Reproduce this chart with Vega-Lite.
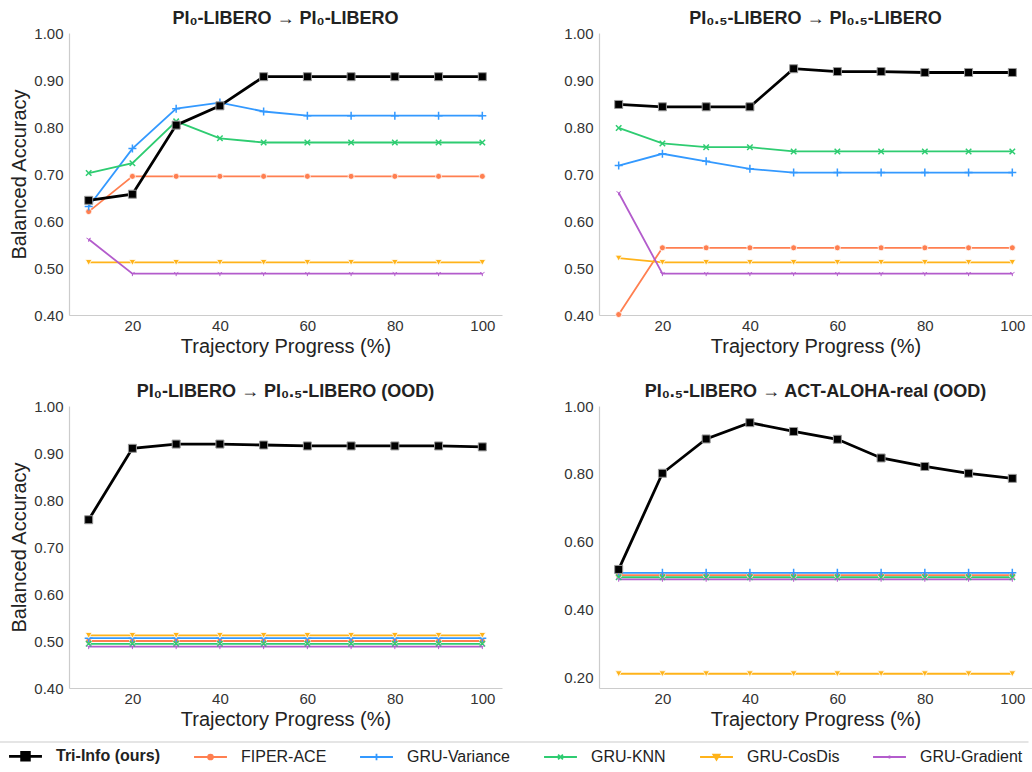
{
  "$schema": "https://vega.github.io/schema/vega-lite/v6.json",
  "padding": {"left": -3, "top": 9, "right": 0, "bottom": 0},
  "background": "white",
  "config": {
    "font": "Liberation Sans",
    "view": {"stroke": null},
    "axis": {"domainColor": "#cccccc", "domainWidth": 1.2, "ticks": false, "grid": false, "labelFontSize": 15, "labelColor": "#333333", "titleFontSize": 20, "titleFontWeight": "normal", "titleColor": "#222222"},
    "axisX": {"labelPadding": 3, "titlePadding": 3},
    "axisY": {"labelPadding": 6, "titlePadding": 4},
    "title": {"fontSize": 18, "fontWeight": "bold", "color": "#222222", "offset": -1.5}
  },
  "datasets": {
    "acc": [
      {"panel": "A", "x": 10, "tri": 0.644, "fiper": 0.620, "var": 0.631, "knn": 0.702, "cos": 0.512, "grad": 0.561},
      {"panel": "A", "x": 20, "tri": 0.657, "fiper": 0.695, "var": 0.754, "knn": 0.723, "cos": 0.512, "grad": 0.488},
      {"panel": "A", "x": 30, "tri": 0.804, "fiper": 0.695, "var": 0.839, "knn": 0.812, "cos": 0.512, "grad": 0.488},
      {"panel": "A", "x": 40, "tri": 0.845, "fiper": 0.695, "var": 0.852, "knn": 0.776, "cos": 0.512, "grad": 0.488},
      {"panel": "A", "x": 50, "tri": 0.907, "fiper": 0.695, "var": 0.833, "knn": 0.767, "cos": 0.512, "grad": 0.488},
      {"panel": "A", "x": 60, "tri": 0.907, "fiper": 0.695, "var": 0.824, "knn": 0.767, "cos": 0.512, "grad": 0.488},
      {"panel": "A", "x": 70, "tri": 0.907, "fiper": 0.695, "var": 0.824, "knn": 0.767, "cos": 0.512, "grad": 0.488},
      {"panel": "A", "x": 80, "tri": 0.907, "fiper": 0.695, "var": 0.824, "knn": 0.767, "cos": 0.512, "grad": 0.488},
      {"panel": "A", "x": 90, "tri": 0.907, "fiper": 0.695, "var": 0.824, "knn": 0.767, "cos": 0.512, "grad": 0.488},
      {"panel": "A", "x": 100, "tri": 0.907, "fiper": 0.695, "var": 0.824, "knn": 0.767, "cos": 0.512, "grad": 0.488},
      {"panel": "B", "x": 10, "tri": 0.848, "fiper": 0.401, "var": 0.718, "knn": 0.798, "cos": 0.521, "grad": 0.660},
      {"panel": "B", "x": 20, "tri": 0.843, "fiper": 0.543, "var": 0.743, "knn": 0.765, "cos": 0.512, "grad": 0.488},
      {"panel": "B", "x": 30, "tri": 0.843, "fiper": 0.543, "var": 0.727, "knn": 0.757, "cos": 0.512, "grad": 0.488},
      {"panel": "B", "x": 40, "tri": 0.843, "fiper": 0.543, "var": 0.711, "knn": 0.757, "cos": 0.512, "grad": 0.488},
      {"panel": "B", "x": 50, "tri": 0.924, "fiper": 0.543, "var": 0.703, "knn": 0.748, "cos": 0.512, "grad": 0.488},
      {"panel": "B", "x": 60, "tri": 0.918, "fiper": 0.543, "var": 0.703, "knn": 0.748, "cos": 0.512, "grad": 0.488},
      {"panel": "B", "x": 70, "tri": 0.918, "fiper": 0.543, "var": 0.703, "knn": 0.748, "cos": 0.512, "grad": 0.488},
      {"panel": "B", "x": 80, "tri": 0.916, "fiper": 0.543, "var": 0.703, "knn": 0.748, "cos": 0.512, "grad": 0.488},
      {"panel": "B", "x": 90, "tri": 0.916, "fiper": 0.543, "var": 0.703, "knn": 0.748, "cos": 0.512, "grad": 0.488},
      {"panel": "B", "x": 100, "tri": 0.916, "fiper": 0.543, "var": 0.703, "knn": 0.748, "cos": 0.512, "grad": 0.488},
      {"panel": "C", "x": 10, "tri": 0.758, "fiper": 0.500, "var": 0.506, "knn": 0.494, "cos": 0.512, "grad": 0.488},
      {"panel": "C", "x": 20, "tri": 0.910, "fiper": 0.500, "var": 0.506, "knn": 0.494, "cos": 0.512, "grad": 0.488},
      {"panel": "C", "x": 30, "tri": 0.919, "fiper": 0.500, "var": 0.506, "knn": 0.494, "cos": 0.512, "grad": 0.488},
      {"panel": "C", "x": 40, "tri": 0.919, "fiper": 0.500, "var": 0.506, "knn": 0.494, "cos": 0.512, "grad": 0.488},
      {"panel": "C", "x": 50, "tri": 0.917, "fiper": 0.500, "var": 0.506, "knn": 0.494, "cos": 0.512, "grad": 0.488},
      {"panel": "C", "x": 60, "tri": 0.915, "fiper": 0.500, "var": 0.506, "knn": 0.494, "cos": 0.512, "grad": 0.488},
      {"panel": "C", "x": 70, "tri": 0.915, "fiper": 0.500, "var": 0.506, "knn": 0.494, "cos": 0.512, "grad": 0.488},
      {"panel": "C", "x": 80, "tri": 0.915, "fiper": 0.500, "var": 0.506, "knn": 0.494, "cos": 0.512, "grad": 0.488},
      {"panel": "C", "x": 90, "tri": 0.915, "fiper": 0.500, "var": 0.506, "knn": 0.494, "cos": 0.512, "grad": 0.488},
      {"panel": "C", "x": 100, "tri": 0.913, "fiper": 0.500, "var": 0.506, "knn": 0.494, "cos": 0.512, "grad": 0.488},
      {"panel": "D", "x": 10, "tri": 0.519, "fiper": 0.502, "var": 0.509, "knn": 0.496, "cos": 0.212, "grad": 0.490},
      {"panel": "D", "x": 20, "tri": 0.802, "fiper": 0.502, "var": 0.509, "knn": 0.496, "cos": 0.212, "grad": 0.490},
      {"panel": "D", "x": 30, "tri": 0.903, "fiper": 0.502, "var": 0.509, "knn": 0.496, "cos": 0.212, "grad": 0.490},
      {"panel": "D", "x": 40, "tri": 0.951, "fiper": 0.502, "var": 0.509, "knn": 0.496, "cos": 0.212, "grad": 0.490},
      {"panel": "D", "x": 50, "tri": 0.925, "fiper": 0.502, "var": 0.509, "knn": 0.496, "cos": 0.212, "grad": 0.490},
      {"panel": "D", "x": 60, "tri": 0.902, "fiper": 0.502, "var": 0.509, "knn": 0.496, "cos": 0.212, "grad": 0.490},
      {"panel": "D", "x": 70, "tri": 0.847, "fiper": 0.502, "var": 0.509, "knn": 0.496, "cos": 0.212, "grad": 0.490},
      {"panel": "D", "x": 80, "tri": 0.822, "fiper": 0.502, "var": 0.509, "knn": 0.496, "cos": 0.212, "grad": 0.490},
      {"panel": "D", "x": 90, "tri": 0.802, "fiper": 0.502, "var": 0.509, "knn": 0.496, "cos": 0.212, "grad": 0.490},
      {"panel": "D", "x": 100, "tri": 0.787, "fiper": 0.502, "var": 0.509, "knn": 0.496, "cos": 0.212, "grad": 0.490}
    ]
  },
  "data": {"name": "acc"},
  "transform": [{"fold": ["fiper", "var", "knn", "cos", "grad", "tri"], "as": ["method", "acc"]}],
  "bounds": "flush",
  "columns": 2,
  "spacing": {"row": 91, "column": 97},
  "concat": [
    {
      "title": "PI₀-LIBERO  →  PI₀-LIBERO",
      "width": 433, "height": 282,
      "transform": [{"filter": "datum.panel === 'A'"}],
      "encoding": {
        "x": {"field": "x", "type": "quantitative", "scale": {"domain": [5.5, 104.5], "nice": false}, "axis": {"values": [20, 40, 60, 80, 100], "title": "Trajectory Progress (%)"}},
        "y": {"field": "acc", "type": "quantitative", "scale": {"domain": [0.4, 1.0], "nice": false, "zero": false}, "axis": {"values": [0.4, 0.5, 0.6, 0.7, 0.8, 0.9, 1.0], "format": ".2f", "title": "Balanced Accuracy"}},
        "color": {"field": "method", "type": "nominal",
          "scale": {"domain": ["tri", "fiper", "var", "knn", "cos", "grad"], "range": ["#000000", "#FF7F50", "#3399FF", "#2ECC71", "#FFB31A", "#B35CCC"]},
          "legend": {
            "title": null, "orient": "none", "direction": "horizontal", "columns": 6,
            "legendX": -70.5, "legendY": 709, "padding": 6,
            "strokeColor": "#dddddd",
            "symbolSize": 49, "symbolOffset": 13, "labelOffset": 22.5, "columnPadding": 29, "symbolOpacity": 1,
            "labelFontSize": 16, "labelColor": "#222222",
            "labelExpr": "{'tri': 'Tri-Info (ours)', 'fiper': 'FIPER-ACE', 'var': 'GRU-Variance', 'knn': 'GRU-KNN', 'cos': 'GRU-CosDis', 'grad': 'GRU-Gradient'}[datum.value]",
            "encode": {
              "legend": {"update": {"strokeDash": {"value": [1030, 4000]}, "strokeWidth": {"value": 1.5}}},
              "symbols": {"update": {
                "fill": {"scale": "color", "field": "value"},
                "stroke": {"scale": "color", "field": "value"},
                "strokeWidth": {"signal": "datum.value === 'tri' ? 2.8 : 1.8"},
                "opacity": {"value": 1}
              }},
              "labels": {"update": {"fontWeight": {"signal": "datum.value === 'tri' ? 'bold' : 'normal'"}}}
            }
          }
        }
      },
      "layer": [
        {"transform": [{"filter": "datum.method !== 'tri'"}], "mark": {"type": "line", "strokeWidth": 1.8}},
        {"transform": [{"filter": "datum.method === 'fiper'"}], "mark": {"type": "point", "shape": "circle", "filled": true, "size": 36, "stroke": "#ffffff", "strokeWidth": 0.8, "opacity": 1}},
        {"transform": [{"filter": "datum.method === 'var'"}], "mark": {"type": "point", "shape": "M-1,0L1,0M0,-1L0,1", "filled": false, "size": 64, "strokeWidth": 1.5, "opacity": 1}},
        {"transform": [{"filter": "datum.method === 'knn'"}], "mark": {"type": "point", "shape": "M-1,-1L1,1M-1,1L1,-1", "filled": false, "size": 30, "strokeWidth": 1.5, "opacity": 1}},
        {"transform": [{"filter": "datum.method === 'cos'"}], "mark": {"type": "point", "shape": "triangle-down", "filled": true, "size": 45, "stroke": "#ffffff", "strokeWidth": 0.8, "opacity": 1}},
        {"transform": [{"filter": "datum.method === 'grad'"}], "mark": {"type": "point", "shape": "M0,0L0,1M0,0L-0.87,-0.5M0,0L0.87,-0.5", "filled": false, "size": 25, "strokeWidth": 1, "opacity": 1}},
        {"transform": [{"filter": "datum.method === 'tri'"}], "mark": {"type": "line", "strokeWidth": 2.8}},
        {"transform": [{"filter": "datum.method === 'tri'"}], "mark": {"type": "point", "shape": "square", "filled": true, "size": 64, "stroke": "#999999", "strokeWidth": 1, "opacity": 1}},
        {"transform": [{"filter": "false"}], "mark": {"type": "point", "filled": true},
         "encoding": {
           "shape": {"field": "method", "type": "nominal", "legend": null,
             "scale": {"domain": ["tri", "fiper", "var", "knn", "cos", "grad"], "range": ["M-4.7,0L4.7,0M-1.1,-1.1L1.1,-1.1L1.1,1.1L-1.1,1.1Z", "M-4.7,0L4.7,0M-0.7,0A0.7,0.7,0,1,1,0.7,0A0.7,0.7,0,1,1,-0.7,0Z", "M-4.7,0L4.7,0M0,-0.9L0,0.9", "M-4.7,0L4.7,0M-0.7,-0.7L0.7,0.7M-0.7,0.7L0.7,-0.7", "M-4.7,0L4.7,0M-0.9,-0.7L0.9,-0.7L0,0.8Z", "M-4.7,0L4.7,0M0,-0.4L0,0.4"]}}
         }}
      ]
    },
    {
      "title": "PI₀.₅-LIBERO  →  PI₀.₅-LIBERO",
      "width": 433, "height": 282,
      "transform": [{"filter": "datum.panel === 'B'"}],
      "encoding": {
        "x": {"field": "x", "type": "quantitative", "scale": {"domain": [5.5, 104.5], "nice": false}, "axis": {"values": [20, 40, 60, 80, 100], "title": "Trajectory Progress (%)"}},
        "y": {"field": "acc", "type": "quantitative", "scale": {"domain": [0.4, 1.0], "nice": false, "zero": false}, "axis": {"values": [0.4, 0.5, 0.6, 0.7, 0.8, 0.9, 1.0], "format": ".2f", "title": null}},
        "color": {"field": "method", "type": "nominal", "legend": null}
      },
      "layer": [
        {"transform": [{"filter": "datum.method !== 'tri'"}], "mark": {"type": "line", "strokeWidth": 1.8}},
        {"transform": [{"filter": "datum.method === 'fiper'"}], "mark": {"type": "point", "shape": "circle", "filled": true, "size": 36, "stroke": "#ffffff", "strokeWidth": 0.8, "opacity": 1}},
        {"transform": [{"filter": "datum.method === 'var'"}], "mark": {"type": "point", "shape": "M-1,0L1,0M0,-1L0,1", "filled": false, "size": 64, "strokeWidth": 1.5, "opacity": 1}},
        {"transform": [{"filter": "datum.method === 'knn'"}], "mark": {"type": "point", "shape": "M-1,-1L1,1M-1,1L1,-1", "filled": false, "size": 30, "strokeWidth": 1.5, "opacity": 1}},
        {"transform": [{"filter": "datum.method === 'cos'"}], "mark": {"type": "point", "shape": "triangle-down", "filled": true, "size": 45, "stroke": "#ffffff", "strokeWidth": 0.8, "opacity": 1}},
        {"transform": [{"filter": "datum.method === 'grad'"}], "mark": {"type": "point", "shape": "M0,0L0,1M0,0L-0.87,-0.5M0,0L0.87,-0.5", "filled": false, "size": 25, "strokeWidth": 1, "opacity": 1}},
        {"transform": [{"filter": "datum.method === 'tri'"}], "mark": {"type": "line", "strokeWidth": 2.8}},
        {"transform": [{"filter": "datum.method === 'tri'"}], "mark": {"type": "point", "shape": "square", "filled": true, "size": 64, "stroke": "#999999", "strokeWidth": 1, "opacity": 1}}
      ]
    },
    {
      "title": "PI₀-LIBERO  →  PI₀.₅-LIBERO (OOD)",
      "width": 433, "height": 282,
      "transform": [{"filter": "datum.panel === 'C'"}],
      "encoding": {
        "x": {"field": "x", "type": "quantitative", "scale": {"domain": [5.5, 104.5], "nice": false}, "axis": {"values": [20, 40, 60, 80, 100], "title": "Trajectory Progress (%)"}},
        "y": {"field": "acc", "type": "quantitative", "scale": {"domain": [0.4, 1.0], "nice": false, "zero": false}, "axis": {"values": [0.4, 0.5, 0.6, 0.7, 0.8, 0.9, 1.0], "format": ".2f", "title": "Balanced Accuracy"}},
        "color": {"field": "method", "type": "nominal", "legend": null}
      },
      "layer": [
        {"transform": [{"filter": "datum.method !== 'tri'"}], "mark": {"type": "line", "strokeWidth": 1.8}},
        {"transform": [{"filter": "datum.method === 'fiper'"}], "mark": {"type": "point", "shape": "circle", "filled": true, "size": 36, "stroke": "#ffffff", "strokeWidth": 0.8, "opacity": 1}},
        {"transform": [{"filter": "datum.method === 'var'"}], "mark": {"type": "point", "shape": "M-1,0L1,0M0,-1L0,1", "filled": false, "size": 64, "strokeWidth": 1.5, "opacity": 1}},
        {"transform": [{"filter": "datum.method === 'knn'"}], "mark": {"type": "point", "shape": "M-1,-1L1,1M-1,1L1,-1", "filled": false, "size": 30, "strokeWidth": 1.5, "opacity": 1}},
        {"transform": [{"filter": "datum.method === 'cos'"}], "mark": {"type": "point", "shape": "triangle-down", "filled": true, "size": 45, "stroke": "#ffffff", "strokeWidth": 0.8, "opacity": 1}},
        {"transform": [{"filter": "datum.method === 'grad'"}], "mark": {"type": "point", "shape": "M0,0L0,1M0,0L-0.87,-0.5M0,0L0.87,-0.5", "filled": false, "size": 25, "strokeWidth": 1, "opacity": 1}},
        {"transform": [{"filter": "datum.method === 'tri'"}], "mark": {"type": "line", "strokeWidth": 2.8}},
        {"transform": [{"filter": "datum.method === 'tri'"}], "mark": {"type": "point", "shape": "square", "filled": true, "size": 64, "stroke": "#999999", "strokeWidth": 1, "opacity": 1}}
      ]
    },
    {
      "title": "PI₀.₅-LIBERO  →  ACT-ALOHA-real (OOD)",
      "width": 433, "height": 282,
      "transform": [{"filter": "datum.panel === 'D'"}],
      "encoding": {
        "x": {"field": "x", "type": "quantitative", "scale": {"domain": [5.5, 104.5], "nice": false}, "axis": {"values": [20, 40, 60, 80, 100], "title": "Trajectory Progress (%)"}},
        "y": {"field": "acc", "type": "quantitative", "scale": {"domain": [0.17, 1.0], "nice": false, "zero": false}, "axis": {"values": [0.2, 0.4, 0.6, 0.8, 1.0], "format": ".2f", "title": null}},
        "color": {"field": "method", "type": "nominal", "legend": null}
      },
      "layer": [
        {"transform": [{"filter": "datum.method !== 'tri'"}], "mark": {"type": "line", "strokeWidth": 1.8}},
        {"transform": [{"filter": "datum.method === 'fiper'"}], "mark": {"type": "point", "shape": "circle", "filled": true, "size": 36, "stroke": "#ffffff", "strokeWidth": 0.8, "opacity": 1}},
        {"transform": [{"filter": "datum.method === 'var'"}], "mark": {"type": "point", "shape": "M-1,0L1,0M0,-1L0,1", "filled": false, "size": 64, "strokeWidth": 1.5, "opacity": 1}},
        {"transform": [{"filter": "datum.method === 'knn'"}], "mark": {"type": "point", "shape": "M-1,-1L1,1M-1,1L1,-1", "filled": false, "size": 30, "strokeWidth": 1.5, "opacity": 1}},
        {"transform": [{"filter": "datum.method === 'cos'"}], "mark": {"type": "point", "shape": "triangle-down", "filled": true, "size": 45, "stroke": "#ffffff", "strokeWidth": 0.8, "opacity": 1}},
        {"transform": [{"filter": "datum.method === 'grad'"}], "mark": {"type": "point", "shape": "M0,0L0,1M0,0L-0.87,-0.5M0,0L0.87,-0.5", "filled": false, "size": 25, "strokeWidth": 1, "opacity": 1}},
        {"transform": [{"filter": "datum.method === 'tri'"}], "mark": {"type": "line", "strokeWidth": 2.8}},
        {"transform": [{"filter": "datum.method === 'tri'"}], "mark": {"type": "point", "shape": "square", "filled": true, "size": 64, "stroke": "#999999", "strokeWidth": 1, "opacity": 1}}
      ]
    }
  ],
  "resolve": {"scale": {"y": "independent", "x": "independent"}}
}
